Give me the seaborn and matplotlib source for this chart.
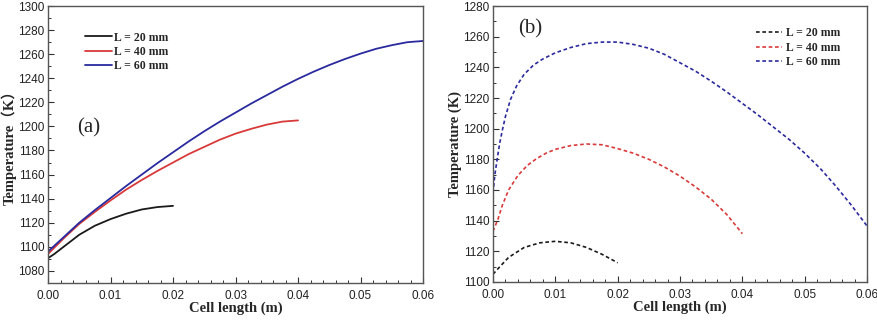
import numpy as np
import pandas as pd
import matplotlib.pyplot as plt
import seaborn as sns
from matplotlib.ticker import MultipleLocator

# Panel (a): temperature along the cell, solid lines
x20_a = [0.0, 0.001, 0.0025, 0.005, 0.0075, 0.01, 0.0125, 0.015, 0.0175, 0.02]
t20_a = [1090.5, 1094, 1100, 1110, 1117.5, 1123, 1127.5, 1131, 1133, 1134]
x40_a = [0.0, 0.0025, 0.005, 0.0075, 0.01, 0.0125, 0.015, 0.0175, 0.02, 0.0225,
         0.025, 0.0275, 0.03, 0.0325, 0.035, 0.0375, 0.04]
t40_a = [1094, 1107, 1119, 1129, 1138.5, 1147.5, 1155.5, 1163, 1170, 1177,
         1183, 1189, 1194, 1198, 1201.5, 1204, 1205]
x60_a = [0.0, 0.0025, 0.005, 0.0075, 0.01, 0.0125, 0.015, 0.0175, 0.02, 0.0225,
         0.025, 0.0275, 0.03, 0.0325, 0.035, 0.0375, 0.04, 0.0425, 0.045,
         0.0475, 0.05, 0.0525, 0.055, 0.0575, 0.06]
t60_a = [1096, 1108, 1120, 1130.5, 1140.5, 1150.5, 1160, 1169.5, 1178.5, 1187.5,
         1196, 1204, 1211.5, 1219, 1226, 1233, 1239.5, 1245.5, 1251,
         1256, 1260.5, 1264.5, 1267.5, 1270, 1271]

# Panel (b): dashed lines
x20_b = [0.0, 0.001, 0.0025, 0.005, 0.0075, 0.01, 0.0125, 0.015, 0.0175, 0.02]
t20_b = [1105, 1109.5, 1116, 1122.5, 1125.5, 1126.5, 1125.5, 1122.5, 1118, 1112.5]
x40_b = [0.0, 0.0004, 0.0008, 0.0015, 0.0025, 0.004, 0.0055, 0.007, 0.0085, 0.01,
         0.0125, 0.015, 0.0175, 0.02, 0.0225, 0.025, 0.0275, 0.03, 0.0325,
         0.035, 0.0375, 0.04]
t40_b = [1133, 1137, 1141, 1150, 1160, 1169.5, 1176, 1180.5, 1184, 1186.5,
         1189, 1190, 1189.5, 1187, 1184, 1180, 1175, 1169, 1162,
         1154, 1144, 1131.5]
x60_b = [0.0, 0.0003, 0.0007, 0.0011, 0.0015, 0.002, 0.0028, 0.0038, 0.005,
         0.0065, 0.008, 0.01, 0.0125, 0.015, 0.0175, 0.02, 0.0225, 0.025,
         0.0275, 0.03, 0.0325, 0.035, 0.0375, 0.04, 0.0425, 0.045, 0.0475,
         0.05, 0.0525, 0.055, 0.0575, 0.06]
t60_b = [1158, 1170, 1181, 1191, 1199, 1208, 1219, 1228, 1235.5,
         1241.5, 1245.5, 1249.5, 1253, 1255.5, 1256.5, 1256.5, 1255, 1252.5,
         1248.5, 1243, 1237.5, 1231, 1224, 1216.5, 1209, 1201, 1193,
         1184, 1174, 1162.5, 1150, 1136.5]

labels = ['L = 20 mm', 'L = 40 mm', 'L = 60 mm']
colores = ['#1a1a1a', '#d83a3a', '#2a2a9e']

sns.set_style('ticks')
plt.rcParams['font.family'] = ['Liberation Sans', 'DejaVu Sans']
plt.rcParams['xtick.direction'] = 'in'
plt.rcParams['ytick.direction'] = 'in'

serif_bold = dict(family=['Liberation Serif', 'Noto Sans CJK SC'], fontweight='bold')

fig = plt.figure(figsize=(8.78, 3.2), dpi=100)
ax1 = fig.add_axes([0.0547, 0.116, 0.4271, 0.865])
ax2 = fig.add_axes([0.5615, 0.119, 0.426, 0.862])

datos_a = [(x20_a, t20_a), (x40_a, t40_a), (x60_a, t60_a)]
datos_b = [(x20_b, t20_b), (x40_b, t40_b), (x60_b, t60_b)]

for (xs, ts), lab, c in zip(datos_a, labels, colores):
    sns.lineplot(x=xs, y=ts, ax=ax1, color=c, lw=1.3, label=lab, sort=False)
for (xs, ts), lab, c in zip(datos_b, labels, colores):
    sns.lineplot(x=xs, y=ts, ax=ax2, color=c, lw=1.2, label=lab, sort=False,
                 linestyle=(0, (2.2, 1.6)))

ax1.set_xlim(0, 0.06)
ax1.set_ylim(1070, 1300)
ax1.yaxis.set_major_locator(MultipleLocator(20))
ax1.yaxis.set_minor_locator(MultipleLocator(10))
ax2.set_xlim(0, 0.06)
ax2.set_ylim(1100, 1280)
ax2.yaxis.set_major_locator(MultipleLocator(20))
ax2.yaxis.set_minor_locator(MultipleLocator(10))

for ax in (ax1, ax2):
    ax.xaxis.set_major_locator(MultipleLocator(0.01))
    ax.xaxis.set_minor_locator(MultipleLocator(0.002))
    ax.xaxis.set_major_formatter(plt.FormatStrFormatter('%.2f'))
    ax.tick_params(which='major', length=4, width=0.8, labelsize=8.5, colors='#333333',
                   labelcolor='#222222', pad=2.5)
    ax.tick_params(axis='x', which='major', pad=5)
    ax.tick_params(which='minor', length=2, width=0.7, colors='#333333')
    for s in ax.spines.values():
        s.set_color('#555555')
        s.set_linewidth(1.0)
    ax.set_xlabel('Cell length (m)', fontsize=10.5, labelpad=0, **serif_bold)

ax1.set_ylabel('Temperature（K）', fontsize=10.5, labelpad=1, **serif_bold)
ax2.set_ylabel('Temperature (K)', fontsize=10.5, labelpad=1, **serif_bold)

leg_font = {'family': 'Liberation Serif', 'weight': 'bold', 'size': 8.5}
ax1.legend(frameon=False, prop=leg_font, loc='upper left', bbox_to_anchor=(0.085, 0.925),
           handlelength=2.3, handletextpad=0.15, labelspacing=0.2, borderaxespad=0)
ax2.legend(frameon=False, prop=leg_font, loc='upper left', bbox_to_anchor=(0.69, 0.94),
           handlelength=2.2, handletextpad=0.4, labelspacing=0.2, borderaxespad=0)

ax1.text(0.078, 0.545, '(a)', transform=ax1.transAxes, fontsize=15, family='Liberation Serif')
ax2.text(0.068, 0.9, '(b)', transform=ax2.transAxes, fontsize=15, family='Liberation Serif')

fig.savefig('out.png', dpi=100)
